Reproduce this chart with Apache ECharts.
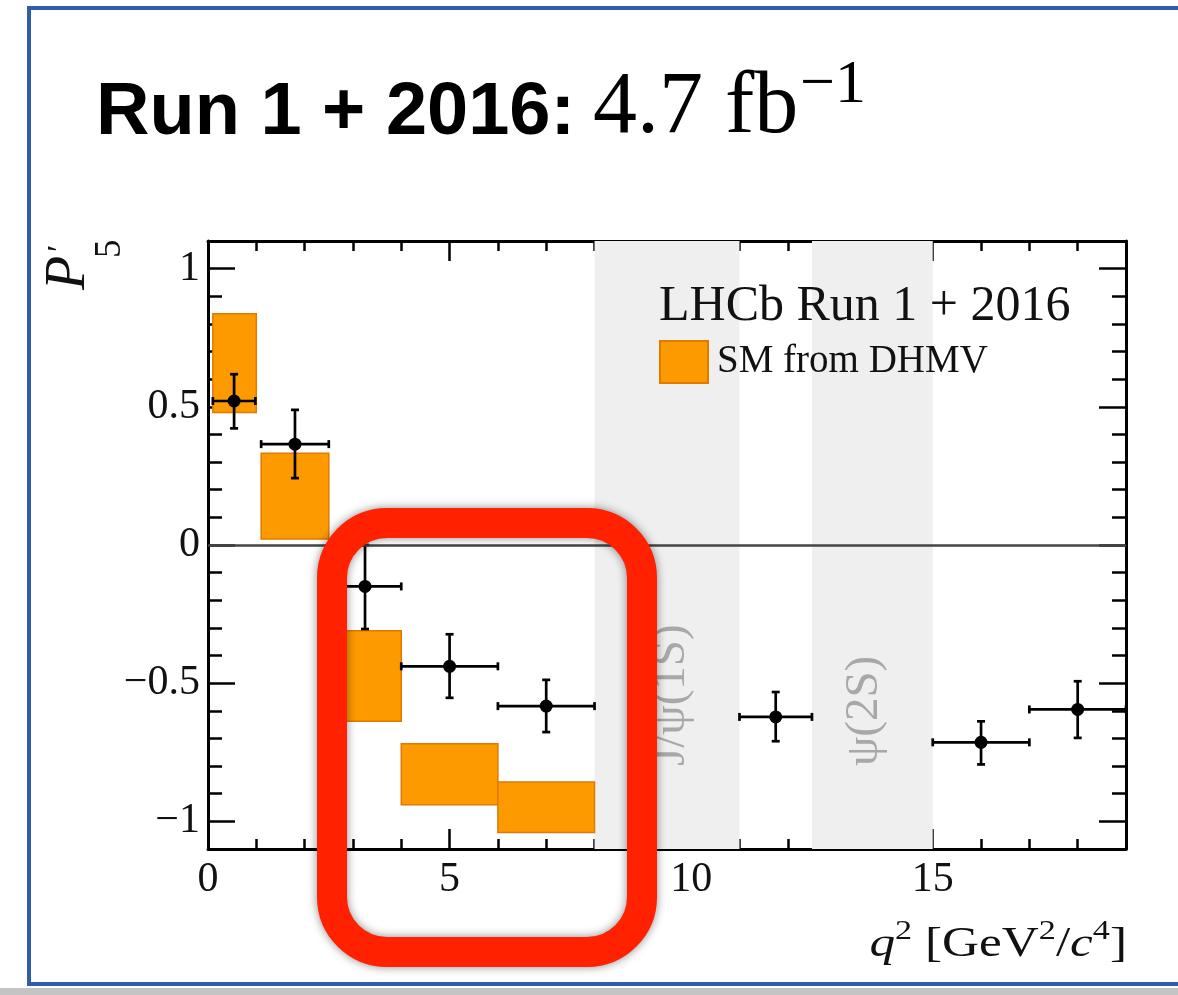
<!DOCTYPE html>
<html>
<head>
<meta charset="utf-8">
<script src="https://cdn.jsdelivr.net/npm/echarts@6/dist/echarts.min.js"></script>
<style>
  html, body { margin: 0; padding: 0; background: #ffffff; }
  #chart { width: 1178px; height: 995px; }
</style>
</head>
<body>
<div id="chart"></div>
<script>
// LHCb P5' measurement in bins of q^2 (Run 1 + 2016)
const binCentre = [0.54, 1.8, 3.25, 5.0, 7.0, 11.75, 16.0, 18.0];
const binLow    = [0.1, 1.1, 2.5, 4.0, 6.0, 11.0, 15.0, 17.0];
const binHigh   = [0.98, 2.5, 4.0, 6.0, 8.0, 12.5, 17.0, 19.0];
const p5Value   = [0.521, 0.365, -0.150, -0.439, -0.583, -0.622, -0.714, -0.595];
const p5ErrUp   = [0.097, 0.124, 0.150, 0.116, 0.095, 0.090, 0.076, 0.102];
const p5ErrDown = [0.099, 0.123, 0.154, 0.114, 0.094, 0.088, 0.080, 0.103];

// SM prediction from DHMV
const smLow  = [0.1, 1.1, 2.5, 4.0, 6.0];
const smHigh = [1.0, 2.5, 4.0, 6.0, 8.0];
const smMin  = [0.479, 0.022, -0.638, -0.940, -1.040];
const smMax  = [0.837, 0.332, -0.310, -0.719, -0.858];

// charmonium veto regions
const vetoName   = ['J/\u03c8(1S)', '\u03c8(2S)'];
const vetoLow    = [8.0, 12.5];
const vetoHigh   = [11.0, 15.0];
const vetoLabelX = [9.6, 13.6];
const vetoLabelY = [-0.80, -0.80];

// axis ticks
const xMajor = [0, 5, 10, 15];
const xMinor = [1, 2, 3, 4, 6, 7, 8, 9, 11, 12, 13, 14, 16, 17, 18];
const yMajor = [-1, -0.5, 0, 0.5, 1];
const yMinor = [-0.9, -0.8, -0.7, -0.6, -0.4, -0.3, -0.2, -0.1,
                0.1, 0.2, 0.3, 0.4, 0.6, 0.7, 0.8, 0.9];

const SERIF = '"Liberation Serif", "Times New Roman", serif';
const SANS = '"Liberation Sans", Arial, sans-serif';
const ORANGE = '#fd9a00';
const ORANGE_EDGE = '#e07a00';

const chart = echarts.init(document.getElementById('chart'));

function fmtY(v) {
  return v < 0 ? '\u2212' + String(-v) : String(v);
}

function xAxisDef(position, ticks, len, labels, line) {
  return {
    type: 'value', min: 0, max: 19, position: position,
    axisLine: { show: line, onZero: false, lineStyle: { color: '#000', width: 3 } },
    axisTick: { show: true, inside: true, length: len, customValues: ticks,
                lineStyle: { color: '#000', width: 2.5 } },
    axisLabel: { show: labels, customValues: ticks, margin: 10,
                 fontFamily: SERIF, fontSize: 42, color: '#111' },
    splitLine: { show: false }
  };
}
function yAxisDef(position, ticks, len, labels, line) {
  return {
    type: 'value', min: -1.1, max: 1.1, position: position,
    axisLine: { show: line, onZero: false, lineStyle: { color: '#000', width: 3 } },
    axisTick: { show: true, inside: true, length: len, customValues: ticks,
                lineStyle: { color: '#000', width: 2.5 } },
    axisLabel: { show: labels, customValues: ticks, margin: 8, formatter: fmtY,
                 fontFamily: SERIF, fontSize: 42, color: '#111' },
    splitLine: { show: false }
  };
}

const vetoData = vetoLow.map((lo, i) => [lo, vetoHigh[i], vetoLabelX[i], vetoLabelY[i], i]);
const smData = smLow.map((lo, i) => [lo, smHigh[i], smMin[i], smMax[i]]);
const p5Data = binCentre.map((x, i) => [x, p5Value[i], binLow[i], binHigh[i], p5ErrUp[i], p5ErrDown[i]]);

const option = {
  animation: false,
  backgroundColor: '#ffffff',
  grid: { left: 208, top: 241, width: 918, height: 608, containLabel: false },
  xAxis: [
    xAxisDef('bottom', xMajor, 20, true, true),
    xAxisDef('bottom', xMinor, 10, false, false),
    xAxisDef('top', xMajor, 20, false, true),
    xAxisDef('top', xMinor, 10, false, false)
  ],
  yAxis: [
    yAxisDef('left', yMajor, 27, true, true),
    yAxisDef('left', yMinor, 14, false, false),
    yAxisDef('right', yMajor, 27, false, true),
    yAxisDef('right', yMinor, 14, false, false)
  ],
  legend: {
    left: 659, top: 340, orient: 'vertical', padding: 0,
    itemWidth: 48, itemHeight: 42, selectedMode: false,
    data: [{ name: 'SM from DHMV', icon: 'rect' }],
    textStyle: { fontFamily: SERIF, fontSize: 39, color: '#111', padding: [0, 0, 0, 4] }
  },
  series: [
    {
      type: 'custom', name: 'veto', silent: true, z: 1,
      xAxisIndex: 0, yAxisIndex: 0,
      data: vetoData,
      renderItem: function (params, api) {
        const cs = params.coordSys;
        const a = api.coord([api.value(0), 0]);
        const b = api.coord([api.value(1), 0]);
        const lp = api.coord([api.value(2), api.value(3)]);
        return {
          type: 'group',
          children: [
            { type: 'rect', shape: { x: a[0], y: cs.y, width: b[0] - a[0], height: cs.height },
              style: { fill: '#efefef' } },
            { type: 'text', x: lp[0], y: lp[1], rotation: Math.PI / 2,
              style: { text: vetoName[api.value(4)], fill: '#a8a8a8',
                       font: '47px ' + SERIF, align: 'left', verticalAlign: 'middle' } }
          ]
        };
      }
    },
    {
      type: 'custom', name: 'SM from DHMV', z: 2,
      xAxisIndex: 0, yAxisIndex: 0,
      itemStyle: { color: ORANGE, borderColor: ORANGE_EDGE, borderWidth: 1.5 },
      data: smData,
      renderItem: function (params, api) {
        const p0 = api.coord([api.value(0), api.value(3)]);
        const p1 = api.coord([api.value(1), api.value(2)]);
        return {
          type: 'rect',
          shape: { x: p0[0], y: p0[1], width: p1[0] - p0[0], height: p1[1] - p0[1] },
          style: { fill: ORANGE, stroke: ORANGE_EDGE, lineWidth: 1.5 }
        };
      },
      markLine: {
        silent: true, symbol: 'none', label: { show: false },
        lineStyle: { color: '#444', width: 2.5, type: 'solid' },
        data: [{ yAxis: 0 }]
      }
    },
    {
      type: 'custom', name: 'LHCb', z: 3,
      xAxisIndex: 0, yAxisIndex: 0,
      data: p5Data,
      renderItem: function (params, api) {
        const x = api.value(0), y = api.value(1);
        const c = api.coord([x, y]);
        const l = api.coord([api.value(2), y]);
        const r = api.coord([api.value(3), y]);
        const t = api.coord([x, y + api.value(4)]);
        const b = api.coord([x, y - api.value(5)]);
        const ls = { stroke: '#000', lineWidth: 2.7 };
        const cap = 4;
        return {
          type: 'group',
          children: [
            { type: 'line', shape: { x1: l[0], y1: l[1], x2: r[0], y2: r[1] }, style: ls },
            { type: 'line', shape: { x1: t[0], y1: t[1], x2: b[0], y2: b[1] }, style: ls },
            { type: 'line', shape: { x1: l[0], y1: l[1] - cap, x2: l[0], y2: l[1] + cap }, style: ls },
            { type: 'line', shape: { x1: r[0], y1: r[1] - cap, x2: r[0], y2: r[1] + cap }, style: ls },
            { type: 'line', shape: { x1: t[0] - cap, y1: t[1], x2: t[0] + cap, y2: t[1] }, style: ls },
            { type: 'line', shape: { x1: b[0] - cap, y1: b[1], x2: b[0] + cap, y2: b[1] }, style: ls },
            { type: 'circle', shape: { cx: c[0], cy: c[1], r: 6.5 }, style: { fill: '#000' } }
          ]
        };
      }
    }
  ],
  graphic: [
    // slide frame
    { type: 'rect', silent: true, z: 0,
      shape: { x: 0, y: 988, width: 1178, height: 7 }, style: { fill: '#c4c4c4' } },
    { type: 'rect', silent: true, z: 1,
      shape: { x: 29, y: 8, width: 1200, height: 976 },
      style: { fill: 'none', stroke: '#2f5ea6', lineWidth: 4 } },
    // headline
    { type: 'text', x: 96, y: 114, z: 10,
      style: { text: 'Run 1 + 2016:', font: 'bold 74px ' + SANS, fill: '#000',
               align: 'left', verticalAlign: 'middle' } },
    { type: 'text', x: 593, y: 109, z: 10,
      style: { text: '4.7 fb', font: '88px ' + SERIF, fill: '#000',
               align: 'left', verticalAlign: 'middle' } },
    { type: 'text', x: 800, y: 86, z: 10,
      style: { text: '\u22121', font: '62px ' + SERIF, fill: '#000',
               align: 'left', verticalAlign: 'middle' } },
    // legend header
    { type: 'text', x: 659, y: 307, z: 10,
      style: { text: 'LHCb Run 1 + 2016', font: '50px ' + SERIF, fill: '#111',
               align: 'left', verticalAlign: 'middle' } },
    // y-axis title P'_5
    { type: 'group', x: 88, y: 290, rotation: Math.PI / 2, z: 10,
      children: [
        { type: 'text', x: 0, y: -19,
          style: { text: 'P', font: 'italic 56px ' + SERIF, fill: '#111',
                   align: 'left', verticalAlign: 'middle' } },
        { type: 'text', x: 38, y: -27,
          style: { text: '\u2032', font: '34px ' + SERIF, fill: '#111',
                   align: 'left', verticalAlign: 'middle' } },
        { type: 'text', x: 32, y: 22,
          style: { text: '5', font: '37px ' + SERIF, fill: '#111',
                   align: 'left', verticalAlign: 'middle' } }
      ] },
    // x-axis title
    { type: 'text', x: 1127, y: 966, z: 10, scaleX: 1.22,
      style: {
        text: '{qi|q}{sup|2}{n| [GeV}{sup|2}{n|/}{ci|c}{sup|4}{n|]}',
        align: 'right', verticalAlign: 'bottom', fill: '#111',
        rich: {
          qi:  { fontFamily: SERIF, fontStyle: 'italic', fontSize: 42, lineHeight: 48, verticalAlign: 'bottom' },
          ci:  { fontFamily: SERIF, fontStyle: 'italic', fontSize: 42, lineHeight: 48, verticalAlign: 'bottom' },
          n:   { fontFamily: SERIF, fontSize: 42, lineHeight: 48, verticalAlign: 'bottom' },
          sup: { fontFamily: SERIF, fontSize: 28, lineHeight: 30, verticalAlign: 'top' }
        }
      } },
    // hand-drawn highlight
    { type: 'rect', z: 20, silent: true,
      shape: { x: 332, y: 523, width: 310, height: 429, r: 55 },
      style: { fill: 'none', stroke: '#ff2100', lineWidth: 30,
               shadowBlur: 10, shadowColor: 'rgba(0,0,0,0.45)' } }
  ]
};

chart.setOption(option);
</script>
</body>
</html>
